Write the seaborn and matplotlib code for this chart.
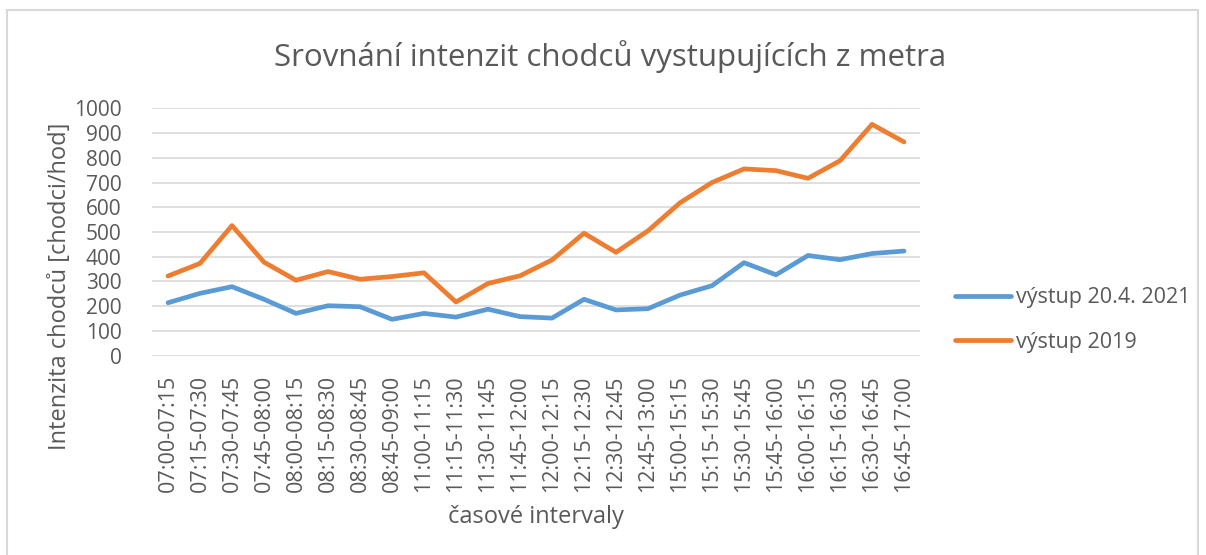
import matplotlib
matplotlib.use("Agg")
import matplotlib.pyplot as plt
import seaborn as sns
import pandas as pd
from matplotlib.patches import Rectangle

intervals = [
    "07:00-07:15", "07:15-07:30", "07:30-07:45", "07:45-08:00",
    "08:00-08:15", "08:15-08:30", "08:30-08:45", "08:45-09:00",
    "11:00-11:15", "11:15-11:30", "11:30-11:45", "11:45-12:00",
    "12:00-12:15", "12:15-12:30", "12:30-12:45", "12:45-13:00",
    "15:00-15:15", "15:15-15:30", "15:30-15:45", "15:45-16:00",
    "16:00-16:15", "16:15-16:30", "16:30-16:45", "16:45-17:00",
]
vystup_2021 = [214, 252, 279, 228, 171, 202, 198, 147,
               171, 156, 188, 158, 152, 228, 185, 190,
               245, 283, 376, 327, 405, 388, 413, 423]
vystup_2019 = [322, 373, 526, 378, 305, 340, 309, 320,
               335, 217, 292, 323, 387, 495, 418, 505,
               618, 700, 755, 748, 717, 788, 935, 864]
series_names = ["výstup 20.4. 2021", "výstup 2019"]
colors = ["#5B9BD5", "#ED7D31"]

df = pd.DataFrame({
    "interval": intervals * 2,
    "x": list(range(len(intervals))) * 2,
    "value": vystup_2021 + vystup_2019,
    "series": [series_names[0]] * len(intervals) + [series_names[1]] * len(intervals),
})

sns.set_theme(style="white")
plt.rcParams["font.family"] = ["Open Sans", "DejaVu Sans"]
text_color = "#595959"

fig = plt.figure(figsize=(12.06, 5.55), dpi=100)
ax = fig.add_axes([152 / 1206, 1 - 355.7 / 555, (920 - 152) / 1206, (355.7 - 108.3) / 555])

sns.lineplot(data=df, x="x", y="value", hue="series", palette=colors,
             hue_order=series_names, linewidth=3.4, ax=ax, legend=False,
             solid_capstyle="round", solid_joinstyle="round")

ax.set_xlim(-0.5, len(intervals) - 0.5)
ax.set_ylim(0, 1000)
ax.set_yticks(range(0, 1001, 100))
ax.set_xticks(range(len(intervals)))
ax.set_xticklabels(intervals, rotation=90, fontsize=15.5, color=text_color)
ax.tick_params(axis="y", labelsize=15, labelcolor=text_color, pad=22, length=0)
ax.tick_params(axis="x", pad=14, length=0)
ax.grid(axis="y", color="#D9D9D9", linewidth=1.2)
ax.set_axisbelow(True)
for s in ax.spines.values():
    s.set_visible(False)

ax.set_xlabel("časové intervaly", fontsize=17, color=text_color)
ax.xaxis.set_label_coords(0.5, -(517 - 355.7) / 247.4)
ax.xaxis.label.set_va("center")
ax.set_ylabel("Intenzita chodců [chodci/hod]", fontsize=17, color=text_color)
ax.yaxis.set_label_coords(-(152 - 60) / 768, (355.7 - 286) / 247.4)
ax.yaxis.label.set_va("center")

fig.text(610 / 1206, 1 - 57 / 555, "Srovnání intenzit chodců vystupujících z metra",
         ha="center", va="center", fontsize=22.5, color=text_color)

# legend on the right
handles = [plt.Line2D([], [], color=c, linewidth=3.4, solid_capstyle="round") for c in colors]
fig.legend(handles, series_names, loc="center left",
           bbox_to_anchor=(955 / 1206, 1 - 320 / 555), frameon=False,
           fontsize=15.5, labelcolor=text_color, handlelength=2.6, handletextpad=0.25,
           labelspacing=1.1, borderpad=0, borderaxespad=0)

# chart frame
fig.patches.append(Rectangle((7 / 1206, -0.02), (1198 - 7) / 1206, 1 - 10 / 555 + 0.02,
                             transform=fig.transFigure, fill=False,
                             edgecolor="#D9D9D9", linewidth=1.5))

fig.savefig("out.png", dpi=100, facecolor="white")
